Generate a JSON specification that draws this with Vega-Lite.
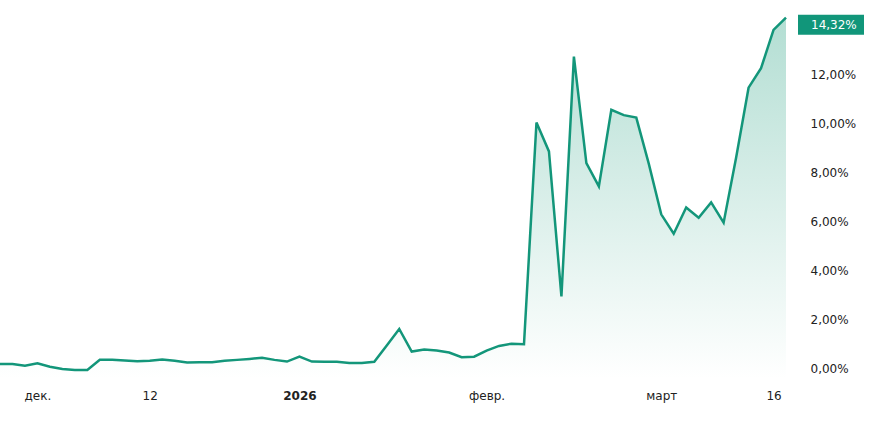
{
  "$schema": "https://vega.github.io/schema/vega-lite/v6.json",
  "width": 786,
  "height": 378,
  "padding": {"left": 0, "top": 0, "right": 87, "bottom": 49},
  "autosize": {"type": "none"},
  "background": "#ffffff",
  "config": {
    "view": {"stroke": null},
    "font": "DejaVu Sans",
    "axis": {"labelFont": "DejaVu Sans", "labelFontSize": 12, "labelColor": "#222222"}
  },
  "data": {
    "values": [
      {"i": 0, "v": 0.18}, {"i": 1, "v": 0.18}, {"i": 2, "v": 0.11}, {"i": 3, "v": 0.21},
      {"i": 4, "v": 0.07}, {"i": 5, "v": -0.02}, {"i": 6, "v": -0.06}, {"i": 7, "v": -0.06},
      {"i": 8, "v": 0.35}, {"i": 9, "v": 0.35}, {"i": 10, "v": 0.32}, {"i": 11, "v": 0.29},
      {"i": 12, "v": 0.31}, {"i": 13, "v": 0.36}, {"i": 14, "v": 0.31}, {"i": 15, "v": 0.24},
      {"i": 16, "v": 0.25}, {"i": 17, "v": 0.25}, {"i": 18, "v": 0.31}, {"i": 19, "v": 0.35},
      {"i": 20, "v": 0.39}, {"i": 21, "v": 0.44}, {"i": 22, "v": 0.35}, {"i": 23, "v": 0.28},
      {"i": 24, "v": 0.48}, {"i": 25, "v": 0.28}, {"i": 26, "v": 0.27}, {"i": 27, "v": 0.27},
      {"i": 28, "v": 0.22}, {"i": 29, "v": 0.22}, {"i": 30, "v": 0.27}, {"i": 31, "v": 0.94},
      {"i": 32, "v": 1.61}, {"i": 33, "v": 0.69}, {"i": 34, "v": 0.77}, {"i": 35, "v": 0.73},
      {"i": 36, "v": 0.65}, {"i": 37, "v": 0.46}, {"i": 38, "v": 0.48}, {"i": 39, "v": 0.73},
      {"i": 40, "v": 0.92}, {"i": 41, "v": 1.01}, {"i": 42, "v": 0.99}, {"i": 43, "v": 10.04},
      {"i": 44, "v": 8.86}, {"i": 45, "v": 2.94}, {"i": 46, "v": 12.73}, {"i": 47, "v": 8.38},
      {"i": 48, "v": 7.43}, {"i": 49, "v": 10.56}, {"i": 50, "v": 10.34}, {"i": 51, "v": 10.24},
      {"i": 52, "v": 8.36}, {"i": 53, "v": 6.29}, {"i": 54, "v": 5.5}, {"i": 55, "v": 6.57},
      {"i": 56, "v": 6.15}, {"i": 57, "v": 6.78}, {"i": 58, "v": 5.95}, {"i": 59, "v": 8.6},
      {"i": 60, "v": 11.46}, {"i": 61, "v": 12.26}, {"i": 62, "v": 13.82}, {"i": 63, "v": 14.32}
    ]
  },
  "encoding": {
    "x": {
      "field": "i",
      "type": "quantitative",
      "scale": {"domain": [0, 63], "nice": false, "zero": false},
      "axis": {
        "title": null,
        "domain": false,
        "ticks": false,
        "grid": false,
        "labelPadding": 12,
        "labelFlush": false,
        "labelOverlap": false,
        "labelBound": false,
        "values": [3, 12, 24, 39, 53, 62],
        "labelExpr": "datum.value == 3 ? 'дек.' : datum.value == 12 ? '12' : datum.value == 24 ? '2026' : datum.value == 39 ? 'февр.' : datum.value == 53 ? 'март' : '16'",
        "labelFontWeight": {"expr": "datum.value == 24 ? 'bold' : 'normal'"}
      }
    },
    "y": {
      "field": "v",
      "type": "quantitative",
      "scale": {"domain": [-0.39, 15.04], "nice": false, "zero": false},
      "axis": {
        "title": null,
        "orient": "right",
        "domain": false,
        "ticks": false,
        "grid": false,
        "labelPadding": 24,
        "labelFlush": false,
        "labelOverlap": false,
        "labelBound": false,
        "values": [0, 2, 4, 6, 8, 10, 12],
        "labelExpr": "replace(format(datum.value, '.2f'), '.', ',') + '%'"
      }
    }
  },
  "layer": [
    {
      "mark": {
        "type": "area",
        "color": {
          "gradient": "linear",
          "x1": 0, "y1": 0, "x2": 0, "y2": 1,
          "stops": [
            {"offset": 0, "color": "#b3ded3"},
            {"offset": 1, "color": "#ffffff"}
          ]
        }
      },
      "encoding": {"y2": {"datum": -0.39}}
    },
    {
      "mark": {"type": "line", "color": "#13967a", "strokeWidth": 2.5, "strokeJoin": "miter"}
    },
    {
      "transform": [{"filter": "datum.i == 63"}],
      "mark": {"type": "rect", "color": "#11967a", "xOffset": 12, "x2Offset": 78, "yOffset": -3, "y2Offset": 17},
      "encoding": {"x2": {"field": "i"}, "y2": {"field": "v"}}
    },
    {
      "transform": [{"filter": "datum.i == 63"}],
      "mark": {"type": "text", "color": "#ffffff", "font": "DejaVu Sans", "fontSize": 12, "align": "left", "baseline": "middle", "dx": 25, "dy": 7.5},
      "encoding": {"text": {"value": "14,32%"}}
    }
  ]
}
